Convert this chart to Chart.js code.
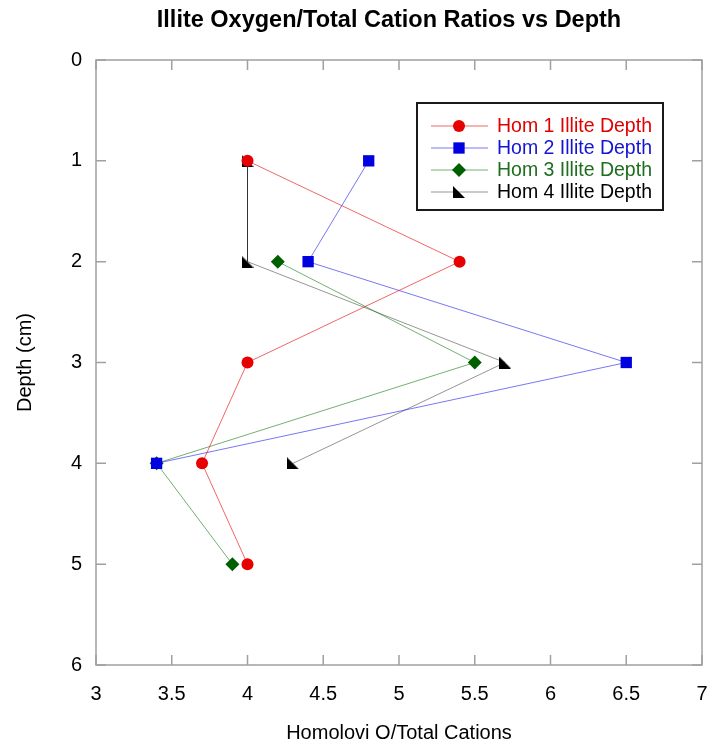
<!DOCTYPE html>
<html>
<head>
<meta charset="utf-8">
<script src="https://cdn.jsdelivr.net/npm/chart.js@4.4.1/dist/chart.umd.min.js"></script>
<style>
html, body { margin: 0; padding: 0; background: #fff; }
#wrap { width: 713px; height: 748px; }
</style>
</head>
<body>
<div id="wrap"><canvas id="grafico"></canvas></div>
<script>
// valores (x = razao O/cations, y = profundidade)
const hom1Depth = [1, 2, 3, 4, 5];
const hom1Ratio = [4.0, 5.4, 4.0, 3.7, 4.0];
const hom2Depth = [1, 2, 3, 4];
const hom2Ratio = [4.8, 4.4, 6.5, 3.4];
const hom3Depth = [2, 3, 4, 5];
const hom3Ratio = [4.2, 5.5, 3.4, 3.9];
const hom4Depth = [1, 2, 3, 4];
const hom4Ratio = [4.0, 4.0, 5.7, 4.3];

const xTicks = [3, 3.5, 4, 4.5, 5, 5.5, 6, 6.5, 7];
const yTicks = [0, 1, 2, 3, 4, 5, 6];

const fonte = '"Liberation Sans", Arial, sans-serif';

function pares(xs, ys) {
    let out = [];
    for (let i = 0; i < xs.length; i++) {
        out.push({ x: xs[i], y: ys[i] });
    }
    return out;
}

// triangulo retangulo (marcador da serie 4)
const tri = document.createElement('canvas');
tri.width = 12; tri.height = 12;
const tctx = tri.getContext('2d');
tctx.fillStyle = '#000';
tctx.beginPath();
tctx.moveTo(0, 0);
tctx.lineTo(0, 12);
tctx.lineTo(12, 12);
tctx.closePath();
tctx.fill();

const series = [
    { label: 'Hom 1 Illite Depth', data: pares(hom1Ratio, hom1Depth), line: 'rgba(230,0,0,0.6)', mark: '#e60000', text: '#e00000', style: 'circle', r: 6 },
    { label: 'Hom 2 Illite Depth', data: pares(hom2Ratio, hom2Depth), line: 'rgba(30,30,235,0.6)', mark: '#0000e0', text: '#1414d2', style: 'rect', r: 8 },
    { label: 'Hom 3 Illite Depth', data: pares(hom3Ratio, hom3Depth), line: 'rgba(0,110,0,0.55)', mark: '#006000', text: '#1e6e1e', style: 'rectRot', r: 7 },
    { label: 'Hom 4 Illite Depth', data: pares(hom4Ratio, hom4Depth), line: 'rgba(0,0,0,0.42)', mark: '#000000', text: '#000000', style: tri, r: 6 }
];

const datasets = series.map(s => ({
    label: s.label,
    data: s.data,
    showLine: true,
    borderColor: s.line,
    borderWidth: 1,
    pointStyle: s.style,
    pointRadius: s.r,
    pointBackgroundColor: s.mark,
    pointBorderColor: s.mark,
    pointBorderWidth: 0
}));

// moldura, ticks para dentro, titulo e legenda
const moldura = {
    id: 'moldura',
    beforeDatasetsDraw(chart) {
        const { ctx, chartArea: a, scales: { x, y } } = chart;
        ctx.save();
        ctx.strokeStyle = '#a0a0a0';
        ctx.lineWidth = 1.5;
        ctx.strokeRect(a.left, a.top, a.right - a.left, a.bottom - a.top);
        ctx.beginPath();
        x.ticks.forEach(t => {
            const px = x.getPixelForValue(t.value);
            ctx.moveTo(px, a.top); ctx.lineTo(px, a.top + 10);
            ctx.moveTo(px, a.bottom); ctx.lineTo(px, a.bottom - 10);
        });
        y.ticks.forEach(t => {
            const py = y.getPixelForValue(t.value);
            ctx.moveTo(a.left, py); ctx.lineTo(a.left + 10, py);
            ctx.moveTo(a.right, py); ctx.lineTo(a.right - 10, py);
        });
        ctx.stroke();
        ctx.restore();
    },
    afterDraw(chart) {
        const ctx = chart.ctx;
        ctx.save();
        // titulo
        ctx.fillStyle = '#000';
        ctx.font = 'bold 23.5px ' + fonte;
        ctx.textAlign = 'center';
        ctx.textBaseline = 'middle';
        ctx.fillText('Illite Oxygen/Total Cation Ratios vs Depth', 389, 21);

        // legenda
        ctx.fillStyle = '#fff';
        ctx.fillRect(417, 103, 246, 107);
        ctx.strokeStyle = '#1a1a1a';
        ctx.lineWidth = 2;
        ctx.strokeRect(417, 103, 246, 107);
        ctx.font = '19.5px ' + fonte;
        ctx.textAlign = 'left';
        series.forEach((s, i) => {
            const ly = 126 + i * 22;
            ctx.strokeStyle = s.line;
            ctx.lineWidth = 1;
            ctx.beginPath();
            ctx.moveTo(431, ly); ctx.lineTo(488, ly);
            ctx.stroke();
            ctx.fillStyle = s.mark;
            ctx.strokeStyle = s.mark;
            Chart.helpers.drawPoint(ctx, { pointStyle: s.style, radius: s.r, rotation: 0, borderWidth: 0 }, 459, ly);
            ctx.fillStyle = s.text;
            ctx.fillText(s.label, 497, ly + 1);
        });
        ctx.restore();
    }
};

const ctxx = document.getElementById('grafico');
const myChart = new Chart(ctxx, {
    type: 'scatter',
    data: { datasets: datasets },
    plugins: [moldura],
    options: {
        responsive: true,
        maintainAspectRatio: false,
        animation: false,
        events: [],
        layout: { padding: { top: 60, right: 11, left: 0, bottom: 0 } },
        plugins: {
            legend: { display: false },
            title: { display: false },
            tooltip: { enabled: false }
        },
        scales: {
            x: {
                type: 'linear',
                min: 3,
                max: 7,
                afterBuildTicks: s => { s.ticks = xTicks.map(v => ({ value: v })); },
                afterFit: s => { s.height = 83; s.paddingLeft = 0; s.paddingRight = 0; },
                grid: { display: false, drawTicks: false },
                border: { display: false },
                ticks: { color: '#000', font: { family: fonte, size: 20 }, padding: 17, callback: v => String(v) },
                title: {
                    display: true,
                    text: 'Homolovi O/Total Cations',
                    color: '#000',
                    font: { family: fonte, size: 20 },
                    padding: { top: 0, bottom: 3 }
                }
            },
            y: {
                type: 'linear',
                reverse: true,
                min: 0,
                max: 6,
                afterBuildTicks: s => { s.ticks = yTicks.map(v => ({ value: v })); },
                afterFit: s => { s.width = 96; s.paddingTop = 0; s.paddingBottom = 0; },
                grid: { display: false, drawTicks: false },
                border: { display: false },
                ticks: { color: '#000', font: { family: fonte, size: 20 }, padding: 14, callback: v => String(v) },
                title: {
                    display: true,
                    text: 'Depth (cm)',
                    color: '#000',
                    font: { family: fonte, size: 20 },
                    padding: { top: 13, bottom: 0 }
                }
            }
        }
    }
});
</script>
</body>
</html>
